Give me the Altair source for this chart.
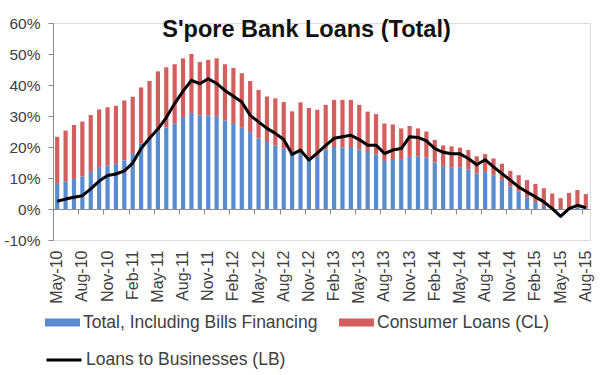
import altair as alt
import pandas as pd

months = [
    "May-10", "Jun-10", "Jul-10", "Aug-10", "Sep-10", "Oct-10", "Nov-10", "Dec-10",
    "Jan-11", "Feb-11", "Mar-11", "Apr-11", "May-11", "Jun-11", "Jul-11", "Aug-11",
    "Sep-11", "Oct-11", "Nov-11", "Dec-11", "Jan-12", "Feb-12", "Mar-12", "Apr-12",
    "May-12", "Jun-12", "Jul-12", "Aug-12", "Sep-12", "Oct-12", "Nov-12", "Dec-12",
    "Jan-13", "Feb-13", "Mar-13", "Apr-13", "May-13", "Jun-13", "Jul-13", "Aug-13",
    "Sep-13", "Oct-13", "Nov-13", "Dec-13", "Jan-14", "Feb-14", "Mar-14", "Apr-14",
    "May-14", "Jun-14", "Jul-14", "Aug-14", "Sep-14", "Oct-14", "Nov-14", "Dec-14",
    "Jan-15", "Feb-15", "Mar-15", "Apr-15", "May-15", "Jun-15", "Jul-15", "Aug-15",
]

# Total, including bills financing (blue, bottom of stack), % yoy
total_bills = [
    8.1, 8.9, 9.7, 10.5, 11.9, 13.5, 14.1, 14.6,
    15.7, 17.8, 21.1, 22.7, 24.9, 26.3, 27.6, 29.7,
    31.0, 30.2, 30.2, 29.9, 28.6, 27.7, 26.2, 24.8,
    22.7, 21.6, 20.5, 19.5, 18.4, 17.8, 17.0, 16.8,
    19.2, 20.0, 19.8, 20.0, 19.2, 18.4, 17.6, 15.5,
    15.8, 16.1, 16.8, 17.0, 16.6, 15.0, 13.8, 13.5,
    13.5, 12.8, 11.4, 12.0, 10.9, 9.4, 7.3, 5.6,
    3.8, 2.2, 1.0, 0.3, 0.0, 0.2, 0.4, 0.3,
]

# Consumer loans (red, stacked on top), % yoy
consumer = [
    15.2, 16.4, 17.4, 17.7, 18.4, 18.6, 18.7, 18.7,
    19.3, 18.4, 18.1, 18.6, 19.5, 19.4, 19.1, 18.9,
    19.0, 17.2, 17.9, 18.7, 18.1, 17.8, 17.6, 16.5,
    15.7, 14.7, 15.2, 15.0, 13.1, 16.6, 15.6, 15.2,
    14.4, 15.2, 15.4, 15.2, 14.4, 13.0, 13.0, 12.1,
    11.5, 9.9, 10.0, 9.0, 8.4, 7.3, 6.7, 6.7,
    6.3, 6.2, 5.6, 5.7, 5.4, 5.2, 5.0, 5.3,
    5.5, 5.9, 5.7, 4.7, 3.5, 5.0, 5.7, 4.5,
]

# Loans to businesses (black line), % yoy
business = [
    2.5, 3.2, 3.8, 4.3, 6.5, 9.0, 10.8, 11.3,
    12.3, 14.8, 19.5, 22.8, 25.8, 29.5, 34.0, 38.0,
    41.5, 40.4, 42.0, 40.5, 38.2, 36.4, 34.5, 30.2,
    28.1, 26.0, 24.4, 22.4, 17.6, 19.0, 15.8, 18.0,
    20.5, 22.8, 23.3, 23.8, 22.4, 20.6, 20.6, 17.9,
    19.0, 19.5, 23.3, 23.1, 22.0, 19.5, 18.3, 17.8,
    17.8, 16.3, 14.3, 15.9, 13.6, 11.4, 9.3, 7.1,
    5.5, 3.9, 2.3, 0.1, -2.4, 0.1, 1.2, 0.4,
]

bar_series = ["Total, Including Bills Financing", "Consumer Loans (CL)"]
line_series = ["Loans to Businesses (LB)"]
y_ticks = [-10, 0, 10, 20, 30, 40, 50, 60]

n = len(months)
bar_df = pd.DataFrame({
    "month": months + months,
    "series": [bar_series[0]] * n + [bar_series[1]] * n,
    "value": total_bills + consumer,
    "order": [0] * n + [1] * n,
})
line_df = pd.DataFrame({
    "month": months,
    "value": business,
    "series": [line_series[0]] * n,
})

W, H = 537, 217
step = W / n
BLUE = "#588BD0"
RED = "#D25E5E"
AXIS_GRAY = "#8C8C8C"
TEXT = "#404040"
FONT = "Liberation Sans"

x_scale = alt.Scale(domain=months, paddingInner=0.5, paddingOuter=0.25)
y_scale = alt.Scale(domain=[-10, 60], nice=False, zero=False)


def y_axis():
    return alt.Axis(
        title=None, values=y_ticks, labelExpr="datum.value + '%'",
        grid=False, domain=True, domainColor=AXIS_GRAY, ticks=True,
        tickColor=AXIS_GRAY, tickSize=5, labelFont=FONT, labelFontSize=15.5,
        labelColor=TEXT, labelPadding=8,
    )


bars = alt.Chart(bar_df).mark_bar().encode(
    x=alt.X(
        "month:N", scale=x_scale, sort=months,
        axis=alt.Axis(
            title=None, orient="bottom", values=months[3::3], labels=False,
            domain=True, domainColor=AXIS_GRAY, domainWidth=1,
            ticks=True, tickColor=AXIS_GRAY, tickSize=5, bandPosition=0,
            tickOffset=-0.25 * step, offset=-H * 10 / 70, grid=False,
        ),
    ),
    y=alt.Y("value:Q", stack="zero", scale=y_scale, axis=y_axis()),
    color=alt.Color(
        "series:N",
        scale=alt.Scale(domain=bar_series, range=[BLUE, RED]),
        legend=alt.Legend(
            title=None, orient="none", legendX=-8, legendY=282,
            direction="horizontal", columns=2, columnPadding=21,
            symbolType="M-1,-0.23H1V0.23H-1Z", symbolSize=1225,
            symbolStrokeWidth=0, symbolOpacity=1, labelOffset=3,
            labelFont=FONT, labelFontSize=17.5, labelColor=TEXT, labelLimit=400,
        ),
    ),
    order=alt.Order("order:Q"),
)

line = alt.Chart(line_df).mark_line(strokeWidth=3, strokeJoin="round").encode(
    x=alt.X(
        "month:N", scale=x_scale, sort=months,
        axis=alt.Axis(
            title=None, orient="bottom", values=months[0::3], labelAngle=-90,
            domain=False, ticks=False, grid=False, labelPadding=10,
            labelFont=FONT, labelFontSize=16, labelColor=TEXT,
        ),
    ),
    y=alt.Y("value:Q", scale=y_scale, axis=y_axis()),
    stroke=alt.Stroke(
        "series:N",
        scale=alt.Scale(domain=line_series, range=["#000000"]),
        legend=alt.Legend(
            title=None, orient="none", legendX=-8, legendY=318,
            symbolType="stroke", symbolSize=1225, symbolStrokeWidth=3,
            labelOffset=3, labelFont=FONT, labelFontSize=17.5,
            labelColor=TEXT, labelLimit=400,
        ),
    ),
)

chart = alt.layer(bars, line).resolve_axis(x="independent").resolve_legend(
    color="independent", stroke="independent"
).properties(
    width=W, height=H,
    title=alt.TitleParams(
        "S'pore Bank Loans (Total)", font=FONT, fontSize=23.5, fontWeight="bold",
        color="#111111", anchor="middle", dx=-15, dy=29,
    ),
    autosize=alt.AutoSizeParams(type="none"),
    padding={"left": 53, "top": 23, "right": 21, "bottom": 135},
).configure_view(stroke=None).configure(background="white")

chart.save("out.html", embed_options={"renderer": "svg", "actions": False})
